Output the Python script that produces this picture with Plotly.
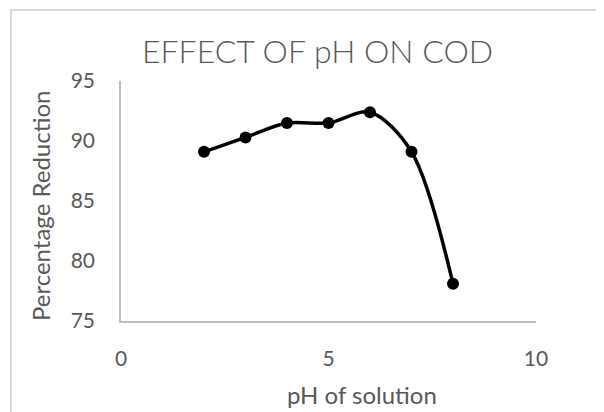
import plotly.graph_objects as go

# Data
ph_values = [2, 3, 4, 5, 6, 7, 8]
percentage_reduction = [89.1, 90.3, 91.5, 91.5, 92.4, 89.1, 78.1]

x_ticks = [0, 5, 10]
y_ticks = [75, 80, 85, 90, 95]

W, H = 604, 412
OFF = 8  # page offset of the rendered figure
L, R, T, B = 121 - OFF, 536 - OFF, 81 - OFF, 321 - OFF  # plot area in figure pixels

def px_x(p):
    return (p - OFF - L) / (R - L)

def px_y(p):
    return (B - (p - OFF)) / (B - T)

FONT = "Lato, Carlito, Liberation Sans, Arial"
TXT = "#595959"

fig = go.Figure()
fig.add_trace(go.Scatter(
    x=ph_values, y=percentage_reduction,
    mode="lines+markers",
    line=dict(color="black", width=3.5, shape="spline", smoothing=0.9),
    marker=dict(color="black", size=12),
    showlegend=False,
))

fig.update_layout(
    width=W, height=H,
    margin=dict(l=L, r=W - R, t=T, b=H - B, pad=0),
    paper_bgcolor="white", plot_bgcolor="white",
    xaxis=dict(range=[0, 10], tickvals=x_ticks, showgrid=False, zeroline=False,
               showline=True, linecolor="#bfbfbf", linewidth=1.5, ticks="",
               tickfont=dict(family=FONT, size=21, color=TXT),
               ticklabelstandoff=18),
    yaxis=dict(range=[75, 95], tickvals=y_ticks, showgrid=False, zeroline=False,
               showline=True, linecolor="#bfbfbf", linewidth=1.5, ticks="",
               tickfont=dict(family=FONT, size=21, color=TXT),
               ticklabelstandoff=20),
    shapes=[dict(type="rect", xref="paper", yref="paper",
                 x0=px_x(11), y0=px_y(440), x1=px_x(640), y1=px_y(10),
                 line=dict(color="#d9d9d9", width=2), fillcolor="rgba(0,0,0,0)",
                 layer="below")],
    annotations=[
        dict(text="EFFECT OF pH ON COD", xref="paper", yref="paper",
             x=px_x(317), y=px_y(50), xanchor="center", yanchor="middle",
             showarrow=False,
             font=dict(family=FONT, size=32, color=TXT, weight=300)),
        dict(text="Percentage Reduction", xref="paper", yref="paper",
             x=px_x(40), y=px_y(206), xanchor="center", yanchor="middle",
             textangle=-90, showarrow=False,
             font=dict(family=FONT, size=24, color=TXT)),
        dict(text="pH of solution", xref="paper", yref="paper",
             x=px_x(362), y=px_y(394), xanchor="center", yanchor="middle",
             showarrow=False,
             font=dict(family=FONT, size=24, color=TXT)),
    ],
)

fig.write_html("out.html")
